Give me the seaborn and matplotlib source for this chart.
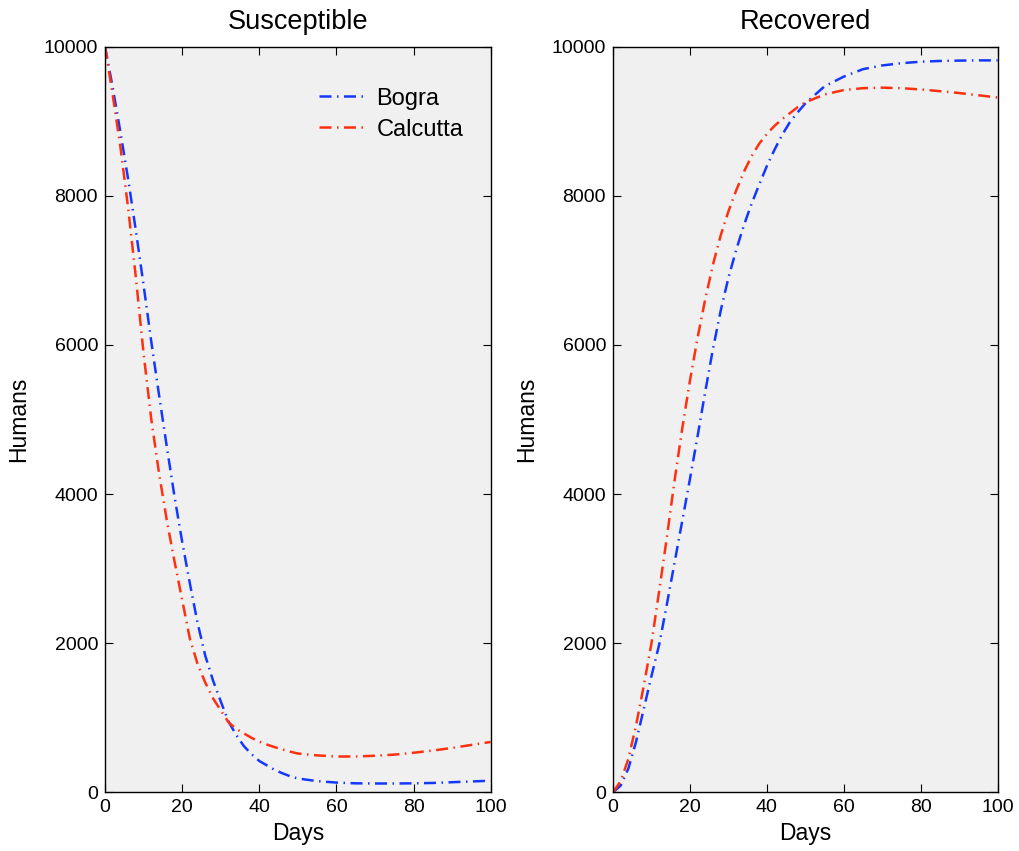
import pandas as pd
import numpy as np
import matplotlib
matplotlib.use("Agg")
import matplotlib.pyplot as plt
import seaborn as sns

# days sampled from the figure
days = [0, 2, 4, 6, 8, 10, 12, 14, 16, 18, 20, 22, 24, 26, 28, 30, 32, 34, 36, 38, 40,
        42, 44, 46, 48, 50, 55, 60, 65, 70, 75, 80, 85, 90, 95, 100]

# Susceptible humans
sus_bogra = [10000, 9450, 8850, 8220, 7530, 6800, 6040, 5330, 4640, 3970, 3360, 2800, 2270,
             1830, 1500, 1220, 950, 770, 620, 510, 420, 360, 300, 255, 215, 185, 150, 130,
             120, 118, 118, 120, 125, 135, 145, 155]
sus_calcutta = [10000, 9350, 8650, 7830, 6900, 5880, 5000, 4280, 3650, 3100, 2580, 2060, 1720,
                1470, 1260, 1100, 940, 850, 790, 730, 680, 640, 605, 575, 545, 520, 495, 480,
                480, 490, 505, 530, 560, 595, 635, 675]

# Recovered humans
rec_bogra = [0, 90, 320, 680, 1120, 1560, 1980, 2520, 3080, 3640, 4200, 4780, 5380, 5950,
             6460, 6900, 7270, 7600, 7890, 8150, 8400, 8620, 8820, 8990, 9120, 9240, 9470,
             9600, 9700, 9750, 9780, 9800, 9810, 9815, 9818, 9818]
rec_calcutta = [0, 150, 450, 900, 1430, 2000, 2700, 3420, 4180, 4880, 5520, 6100, 6620, 7080,
                7470, 7790, 8070, 8320, 8530, 8700, 8830, 8940, 9030, 9110, 9190, 9255, 9360,
                9420, 9445, 9452, 9445, 9428, 9405, 9380, 9350, 9320]

sns.set_style("ticks")
plt.rcParams['font.family'] = ['Liberation Sans', 'DejaVu Sans']
plt.rcParams['text.color'] = 'black'
plt.rcParams['axes.labelcolor'] = 'black'

blue = "#1438ff"
red = "#ff3010"
dashdot = (0, (4.8, 2.2, 0.6, 2.2))

fig = plt.figure(figsize=(10.2, 8.51), dpi=100)
ax1 = fig.add_axes([0.103, 0.069, 0.378, 0.876])
ax2 = fig.add_axes([0.601, 0.069, 0.377, 0.876])

panels = [(ax1, 'Susceptible', sus_bogra, sus_calcutta),
          (ax2, 'Recovered', rec_bogra, rec_calcutta)]

for ax, title, b, c in panels:
    df = pd.DataFrame({'Days': days, 'Bogra': b, 'Calcutta': c})
    sns.lineplot(data=df, x='Days', y='Bogra', ax=ax, color=blue, lw=1.8,
                 linestyle=dashdot, label='Bogra')
    sns.lineplot(data=df, x='Days', y='Calcutta', ax=ax, color=red, lw=1.8,
                 linestyle=dashdot, label='Calcutta')
    ax.set_facecolor("#f0f0f0")
    ax.set_xlim(0, 100)
    ax.set_ylim(0, 10000)
    ax.set_xticks([0, 20, 40, 60, 80, 100])
    ax.set_yticks([0, 2000, 4000, 6000, 8000, 10000])
    ax.tick_params(direction='in', top=True, right=True, length=6, width=0.8,
                   labelsize=14, colors='black', pad=5)
    for s in ax.spines.values():
        s.set_color('black')
        s.set_linewidth(1.0)
    ax.set_title(title, fontsize=19.5, pad=13, color='black')
    ax.set_xlabel('Days', fontsize=16.5, labelpad=4)
    ax.set_ylabel('Humans', fontsize=16.5, labelpad=10)

ax1.legend(loc='upper right', bbox_to_anchor=(0.954, 0.958), frameon=False, fontsize=17,
           handlelength=2.1, handletextpad=0.35, borderaxespad=0, labelspacing=0.38)
ax2.get_legend().remove()

fig.savefig("out.png", dpi=100, facecolor='white')
